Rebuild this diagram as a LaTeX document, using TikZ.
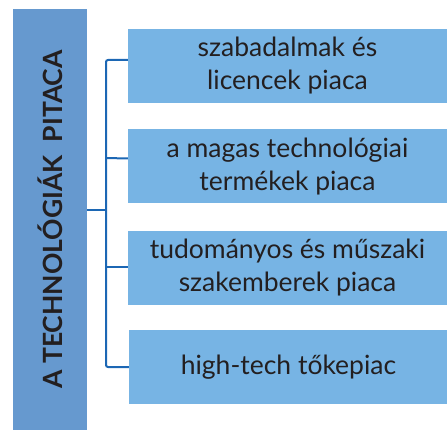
\documentclass[tikz,border=0pt]{standalone}
\usepackage{fontspec}
\setmainfont{Lato}
\definecolor{headblue}{HTML}{6699CF}
\definecolor{boxblue}{HTML}{77B4E4}
\definecolor{linkblue}{HTML}{1C67B4}
\definecolor{txtgray}{HTML}{231F20}
\begin{document}
\begin{tikzpicture}[x=1pt,y=-1pt,
  head/.style={rectangle,fill=headblue,inner sep=0pt,minimum width=421pt,minimum height=74pt,
    font=\bfseries\fontsize{26.5}{30}\selectfont,text=txtgray},
  market/.style={rectangle,fill=boxblue,inner sep=0pt,minimum width=319pt,minimum height=74pt,
    align=center,font=\fontsize{26.5}{33}\selectfont,text=txtgray},
  link/.style={draw=linkblue,line width=2pt,rounded corners=2pt}
  ]
  \useasboundingbox (0,0) rectangle (447,430);
  \node [head,rotate=90] (tech) at (50,219.5) {A TECHNOLÓGIÁK\ \ PITACA};
  \node [market] (m1) at (287.5,66) {szabadalmak és\\licencek piaca};
  \node [market] (m2) at (287.5,166.5) {a magas technológiai\\termékek piaca};
  \node [market] (m3) at (287.5,268) {tudományos és műszaki\\szakemberek piaca};
  \node [market] (m4) at (288.5,367) {high-tech tőkepiac};
  \coordinate (fork) at (106,210);
  % bracket
  \draw [link] (tech.south |- fork) -- (fork);
  \draw [link] ([yshift=6pt]m1.west) -| (fork) |- (m4.west);
  \draw [link] (fork |- 0,158) -- ([yshift=8pt]m2.west);
  \draw [link] (fork |- 0,267) -- ([yshift=1pt]m3.west);
\end{tikzpicture}
\end{document}
